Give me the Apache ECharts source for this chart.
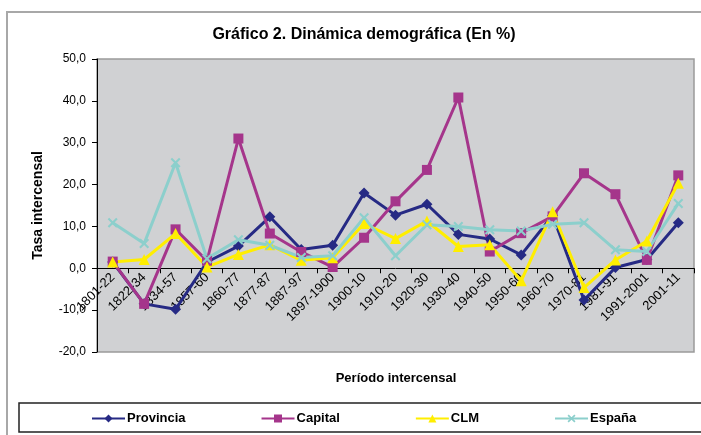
<!DOCTYPE html>
<html>
<head>
<meta charset="utf-8">
<script src="https://cdn.jsdelivr.net/npm/echarts@6/dist/echarts.min.js"></script>
<style>html,body{margin:0;padding:0;background:#fff;}#c{width:701px;height:435px;}</style>
</head>
<body>
<div id="c"></div>
<script>
var categories = ['1801-22','1822-34','1834-57','1857-60','1860-77','1877-87','1887-97','1897-1900','1900-10','1910-20','1920-30','1930-40','1940-50','1950-60','1960-70','1970-81','1981-91','1991-2001','2001-11'];
var provincia = [1.5,-8.5,-9.8,1.5,5.3,12.3,4.5,5.5,18.0,12.7,15.3,8.1,7.0,3.2,12.6,-7.6,0.2,2.1,10.9];
var capital   = [1.6,-8.5,9.3,1.8,31.0,8.3,3.9,0.3,7.3,16.0,23.5,40.8,4.0,8.4,12.4,22.7,17.7,2.0,22.2];
var clm       = [1.5,2.1,8.3,0.3,3.3,5.6,1.9,2.5,10.7,7.1,11.3,5.2,5.6,-3.0,13.5,-4.6,2.0,6.5,20.3];
var espana    = [10.9,5.9,25.2,2.3,6.8,5.5,2.6,3.0,12.1,3.0,10.4,10.0,9.2,8.9,10.5,10.9,4.4,4.0,15.5];
var yTicks = { min: -20, max: 50, interval: 10 };

var FONT = '"Liberation Sans", Arial, sans-serif';
var xPath = 'path://M0,1.5L1.5,0L5,3.5L8.5,0L10,1.5L6.5,5L10,8.5L8.5,10L5,6.5L1.5,10L0,8.5L3.5,5Z';

function mk(name, data, color, symbol, size) {
  return {
    name: name, type: 'line', data: data, symbol: symbol, symbolSize: size,
    lineStyle: { color: color, width: 3 },
    itemStyle: { color: color },
    animation: false, z: 3
  };
}

var chart = echarts.init(document.getElementById('c'), null, { renderer: 'canvas' });
chart.setOption({
  backgroundColor: '#ffffff',
  animation: false,
  title: [{
    text: 'Gráfico 2. Dinámica demográfica (En %)',
    left: 359, top: 22, textAlign: 'center',
    textStyle: { fontFamily: FONT, fontWeight: 'bold', fontSize: 16, color: '#000' }
  }, {
    text: 'Período intercensal',
    left: 391, top: 367, textAlign: 'center',
    textStyle: { fontFamily: FONT, fontWeight: 'bold', fontSize: 13, color: '#000' }
  }],
  graphic: [
    { type: 'rect', shape: { x: 7, y: 12, width: 720, height: 440 }, style: { fill: 'none', stroke: '#a8a8a8', lineWidth: 2 }, z: -1 },
    { type: 'rect', shape: { x: 19, y: 403, width: 720, height: 29 }, style: { fill: 'none', stroke: '#222', lineWidth: 1.5 }, z: -1 }
  ],
  grid: { left: 97, top: 59, right: 7, bottom: 83, outerBoundsMode: 'none', containLabel: false,
    show: true, backgroundColor: '#d0d1d3', borderColor: '#9a9a9a', borderWidth: 1.5 },
  legend: {
    left: 91, top: 412, padding: 0, itemWidth: 33, itemHeight: 10, itemGap: 75,
    textStyle: { fontFamily: FONT, fontWeight: 'bold', fontSize: 13, color: '#000', padding: [0,0,0,-3] },
    data: ['Provincia','Capital','CLM','España']
  },
  xAxis: {
    type: 'category', data: categories, boundaryGap: true, offset: 0,
    axisLine: { onZero: false, lineStyle: { color: '#000', width: 1 } },
    axisTick: { show: true, length: 5, lineStyle: { color: '#000' } },
    axisLabel: { rotate: 45, fontSize: 13, color: '#000', fontFamily: FONT, margin: 7, interval: 0 }
  },
  yAxis: {
    type: 'value', min: yTicks.min, max: yTicks.max, interval: yTicks.interval,
    splitLine: { show: false },
    axisLine: { show: true, lineStyle: { color: '#000', width: 1 } },
    axisTick: { show: true, length: 5, lineStyle: { color: '#000' } },
    axisLabel: { fontSize: 12, color: '#000', fontFamily: FONT, margin: 11,
      formatter: function (v) { return v.toFixed(1).replace('.', ','); } },
    name: 'Tasa intercensal', nameLocation: 'middle', nameRotate: 90, nameGap: 52,
    nameTextStyle: { fontFamily: FONT, fontWeight: 'bold', fontSize: 14, color: '#000' }
  },
  series: [
    mk('Provincia', provincia, '#262a84', 'diamond', 11),
    mk('Capital', capital, '#a5358b', 'rect', 10),
    mk('CLM', clm, '#ffee00', 'triangle', 11),
    mk('España', espana, '#8ccfcc', xPath, 10)
  ]
});
// Move the category axis (line, ticks and labels) to the y = 0 position of the value scale.
var zeroY = chart.convertToPixel({ yAxisIndex: 0 }, 0);
var minY = chart.convertToPixel({ yAxisIndex: 0 }, yTicks.min);
chart.setOption({ xAxis: { offset: zeroY - minY } });
</script>
</body>
</html>
